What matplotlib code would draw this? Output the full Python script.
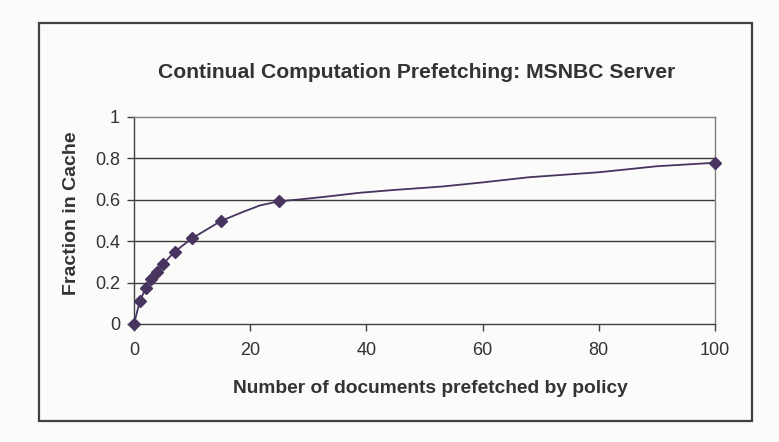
import matplotlib
matplotlib.use("Agg")
import matplotlib.pyplot as plt
from matplotlib.patches import Rectangle

# Data
docs_prefetched = [0, 1, 2, 3, 4, 5, 7, 10, 15, 18.8, 21.7, 25, 28.6, 33, 38.9,
                   45, 53, 60, 68, 80, 90, 100]
fraction_in_cache = [0, 0.11, 0.172, 0.217, 0.253, 0.29, 0.349, 0.414, 0.498,
                     0.542, 0.573, 0.593, 0.602, 0.615, 0.634, 0.648, 0.664,
                     0.684, 0.709, 0.733, 0.762, 0.779]
marked_docs = [0, 1, 2, 3, 4, 5, 7, 10, 15, 25, 100]

x_ticks = [0, 20, 40, 60, 80, 100]
y_ticks = [0, 0.2, 0.4, 0.6, 0.8, 1]
y_tick_labels = ["0", "0.2", "0.4", "0.6", "0.8", "1"]

title = "Continual Computation Prefetching: MSNBC Server"
x_label = "Number of documents prefetched by policy"
y_label = "Fraction in Cache"

plt.rcParams["font.family"] = ["Liberation Sans", "DejaVu Sans"]

bg = "#fbfbfa"
line_color = "#47345f"
text_color = "#333333"

fig = plt.figure(figsize=(7.79, 4.42), dpi=100, facecolor=bg)

# Outer chart border
fig.patches.append(Rectangle((0.0501, 0.0475), 0.9153, 0.9005, transform=fig.transFigure,
                             fill=False, edgecolor="#404040", linewidth=1.6))

ax = fig.add_axes([0.1720, 0.2670, 0.7458, 0.4683], facecolor=bg)

marker_idx = [docs_prefetched.index(d) for d in marked_docs]
ax.plot(docs_prefetched, fraction_in_cache, color=line_color, linewidth=1.3,
        marker="D", markersize=6.5, markevery=marker_idx, markerfacecolor=line_color,
        markeredgecolor=line_color, zorder=3, clip_on=False)

ax.set_xlim(0, 100)
ax.set_ylim(0, 1)
ax.set_xticks(x_ticks)
ax.set_yticks(y_ticks)
ax.set_yticklabels(y_tick_labels)

for y in y_ticks[1:-1]:
    ax.axhline(y, color="#3c3c3c", linewidth=1.0, zorder=1)

ax.spines["top"].set_color("#808080")
ax.spines["right"].set_color("#808080")
ax.spines["left"].set_color("#404040")
ax.spines["bottom"].set_color("#404040")
for s in ax.spines.values():
    s.set_linewidth(1.0)

ax.tick_params(axis="both", direction="out", length=5, width=1, color="#404040",
               labelsize=13, labelcolor=text_color, pad=5)
ax.tick_params(axis="x", pad=8)

fig.text(0.535, 0.837, title, ha="center", va="center", fontsize=15.2,
         fontweight="bold", color=text_color)
fig.text(0.552, 0.122, x_label, ha="center", va="center", fontsize=13.8,
         fontweight="bold", color=text_color)
fig.text(0.0924, 0.518, y_label, ha="center", va="center", rotation=90,
         fontsize=14, fontweight="bold", color=text_color)

fig.savefig("out.png", dpi=100, facecolor=bg)
